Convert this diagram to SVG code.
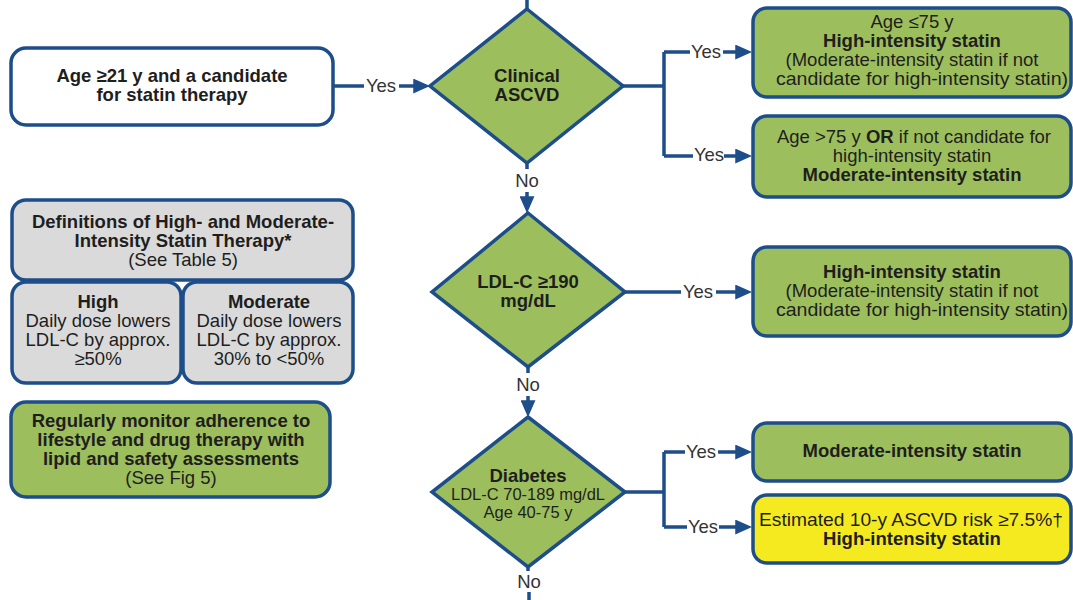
<svg xmlns="http://www.w3.org/2000/svg" width="1073" height="600" viewBox="0 0 1073 600">
<style>
  .box{stroke:#1d4e8a;stroke-width:3.5}
  .white{fill:#ffffff}
  .green{fill:#9dbe5c}
  .gray{fill:#dadada}
  .yellow{fill:#f4ea1f}
  text{font-family:"Liberation Sans",Arial,sans-serif;font-size:18.5px;fill:#1e1e1e;text-anchor:middle}
  .b{font-weight:bold}
  .sm{font-size:16.5px}
  .lbl{fill:#333333}
  .conn{fill:none;stroke:#1d4e8a;stroke-width:3.5}
</style>
<defs>
  <marker id="arr" viewBox="0 0 16 14" refX="12" refY="7" markerWidth="17" markerHeight="15" markerUnits="userSpaceOnUse" orient="auto">
    <path d="M0,0 L16,7 L0,14 z" fill="#1d4e8a"/>
  </marker>
</defs>
<rect width="1073" height="600" fill="#ffffff"/>

<g id="connectors">
  <path class="conn" d="M527,0 V10"/>
  <path class="conn" d="M333,86 H364"/>
  <path class="conn" d="M399,86 H426" marker-end="url(#arr)"/>
  <path class="conn" d="M623,86 H664 M664,52 V156 M664,52 H690 M664,156 H693"/>
  <path class="conn" d="M723,52 H748" marker-end="url(#arr)"/>
  <path class="conn" d="M724,156 H748" marker-end="url(#arr)"/>
  <path class="conn" d="M527,163 V169"/>
  <path class="conn" d="M527,192 V209" marker-end="url(#arr)"/>
  <path class="conn" d="M625,292 H681"/>
  <path class="conn" d="M716,292 H748" marker-end="url(#arr)"/>
  <path class="conn" d="M528,367 V373"/>
  <path class="conn" d="M528,396 V413" marker-end="url(#arr)"/>
  <path class="conn" d="M625,492 H664 M664,452 V527 M664,452 H685 M664,527 H687"/>
  <path class="conn" d="M718,452 H748" marker-end="url(#arr)"/>
  <path class="conn" d="M719,527 H748" marker-end="url(#arr)"/>
  <path class="conn" d="M528,567 V571"/>
  <path class="conn" d="M529,592 V600"/>
  <text class="lbl" x="381" y="92">Yes</text>
  <text class="lbl" x="706" y="58">Yes</text>
  <text class="lbl" x="709" y="161">Yes</text>
  <text class="lbl" x="698" y="298">Yes</text>
  <text class="lbl" x="701" y="458">Yes</text>
  <text class="lbl" x="703" y="533">Yes</text>
  <text class="lbl" x="527" y="187">No</text>
  <text class="lbl" x="528" y="391">No</text>
  <text class="lbl" x="529" y="588">No</text>
</g>

<g id="start">
  <rect class="box white" x="11" y="48" width="322" height="77" rx="15"/>
  <text class="b" x="172" y="82">Age ≥21 y and a candidate</text>
  <text class="b" x="172" y="101">for statin therapy</text>
</g>

<g id="clinical-ascvd">
  <polygon class="box green" points="527,9 623,86 527,163 430,86"/>
  <text class="b" x="527" y="82">Clinical</text>
  <text class="b" x="527" y="101">ASCVD</text>
</g>

<g id="ascvd-high">
  <rect class="box green" x="753" y="8" width="318" height="89" rx="14"/>
  <text x="912" y="28">Age ≤75 y</text>
  <text class="b" x="912" y="47">High-intensity statin</text>
  <text x="912" y="66">(Moderate-intensity statin if not</text>
  <text x="922" y="85" textLength="292" lengthAdjust="spacingAndGlyphs">candidate for high-intensity statin)</text>
</g>

<g id="ascvd-moderate">
  <rect class="box green" x="753" y="116" width="318" height="81" rx="14"/>
  <text x="914" y="143">Age &gt;75 y <tspan class="b">OR</tspan> if not candidate for</text>
  <text x="912" y="162">high-intensity statin</text>
  <text class="b" x="912" y="181">Moderate-intensity statin</text>
</g>

<g id="ldl190">
  <polygon class="box green" points="528,213 625,292 528,367 432,292"/>
  <text class="b" x="528" y="288">LDL-C ≥190</text>
  <text class="b" x="528" y="307">mg/dL</text>
</g>

<g id="ldl-high">
  <rect class="box green" x="753" y="247" width="318" height="89" rx="14"/>
  <text class="b" x="912" y="278">High-intensity statin</text>
  <text x="912" y="297">(Moderate-intensity statin if not</text>
  <text x="922" y="316" textLength="292" lengthAdjust="spacingAndGlyphs">candidate for high-intensity statin)</text>
</g>

<g id="diabetes">
  <polygon class="box green" points="528,417 625,492 528,567 432,492"/>
  <text class="b" x="528" y="482">Diabetes</text>
  <text class="sm" x="528" y="500">LDL-C 70-189 mg/dL</text>
  <text class="sm" x="528" y="518">Age 40-75 y</text>
</g>

<g id="diabetes-moderate">
  <rect class="box green" x="753" y="423" width="318" height="58" rx="14"/>
  <text class="b" x="912" y="457">Moderate-intensity statin</text>
</g>

<g id="diabetes-high">
  <rect class="box yellow" x="753" y="495" width="318" height="68" rx="14"/>
  <text x="911" y="526" textLength="304" lengthAdjust="spacingAndGlyphs">Estimated 10-y ASCVD risk ≥7.5%†</text>
  <text class="b" x="912" y="545">High-intensity statin</text>
</g>

<g id="definitions">
  <rect class="box gray" x="12" y="200" width="341" height="80" rx="14"/>
  <text class="b" x="183" y="228">Definitions of High- and Moderate-</text>
  <text class="b" x="183" y="247">Intensity Statin Therapy*</text>
  <text x="183" y="266">(See Table 5)</text>
</g>

<g id="def-high">
  <rect class="box gray" x="12" y="282" width="169" height="101" rx="14"/>
  <text class="b" x="98" y="308">High</text>
  <text x="98" y="327">Daily dose lowers</text>
  <text x="98" y="346">LDL-C by approx.</text>
  <text x="98" y="365">≥50%</text>
</g>

<g id="def-moderate">
  <rect class="box gray" x="183" y="282" width="170" height="101" rx="14"/>
  <text class="b" x="269" y="308">Moderate</text>
  <text x="269" y="327">Daily dose lowers</text>
  <text x="269" y="346">LDL-C by approx.</text>
  <text x="269" y="365">30% to &lt;50%</text>
</g>

<g id="monitor">
  <rect class="box green" x="11" y="402" width="319" height="95" rx="15"/>
  <text class="b" x="171" y="427">Regularly monitor adherence to</text>
  <text class="b" x="171" y="446">lifestyle and drug therapy with</text>
  <text class="b" x="171" y="465">lipid and safety assessments</text>
  <text x="171" y="484">(See Fig 5)</text>
</g>
</svg>
